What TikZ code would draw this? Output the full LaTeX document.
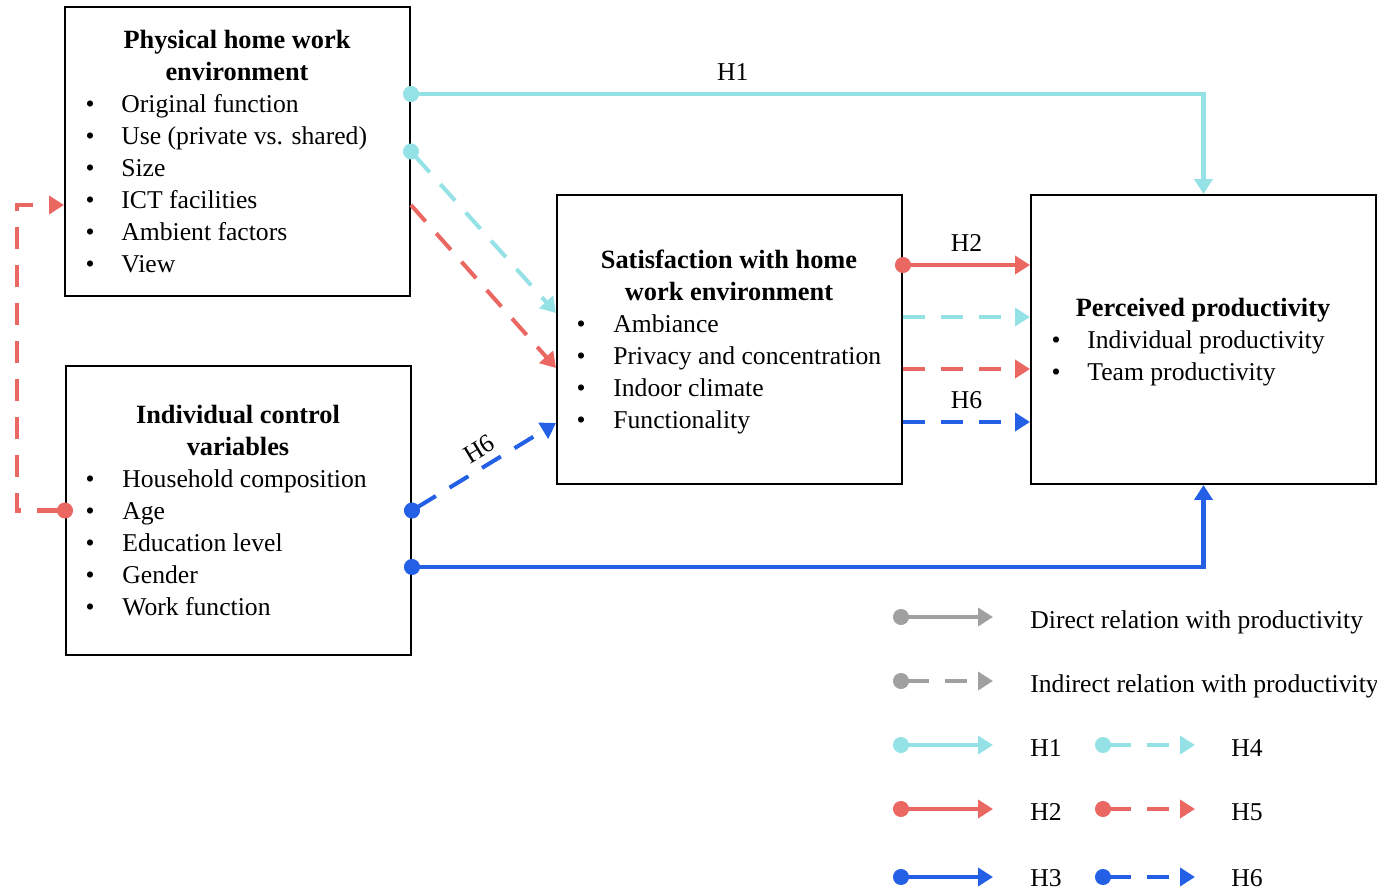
\documentclass[tikz,border=0pt]{standalone}
\usepackage{fontspec}
\setmainfont{Liberation Serif}
\usetikzlibrary{arrows.meta,positioning}

\definecolor{hcyan}{RGB}{148,226,230}
\definecolor{hred}{RGB}{235,103,98}
\definecolor{hblue}{RGB}{35,96,230}
\definecolor{hgrey}{RGB}{160,160,160}

\begin{document}
\begin{tikzpicture}[
  x=0.02cm, y=-0.02cm,
  font=\fontsize{14.6}{18.2}\selectfont,
  box/.style={draw,line width=1.15pt,minimum width=6.9cm,minimum height=5.78cm,inner sep=0pt},
  ttl/.style={font=\fontsize{15}{18.2}\selectfont\bfseries,align=center,inner sep=0pt},
  itm/.style={anchor=west,inner sep=0pt,text height=10pt,text depth=3pt,yshift=-1.7pt},
  bul/.style={inner sep=0pt,text height=10pt,text depth=3pt,yshift=-1.7pt},
  rel/.style={line width=2.3pt,{Circle[length=0.32cm,sep=-0.16cm]}-{Triangle[length=0.3cm,width=0.36cm]}},
  relnd/.style={line width=2.3pt,-{Triangle[length=0.3cm,width=0.36cm]}},
  ind/.style={dash pattern=on 0.44cm off 0.32cm},
  lab/.style={inner sep=6.5pt},
  lgd/.style={anchor=west,inner sep=0pt,text height=10pt,text depth=3pt,yshift=-1.7pt}]

  \useasboundingbox (0,0) rectangle (1377,889);

  % ================= boxes =================
  \node[box] (phys) at (237.5,151.5) {};
  \node[box] (ctrl) at (238.5,510.5) {};
  \node[box] (sat) at (729.5,339.5) {};
  \node[box] (perc) at (1203.5,339.5) {};

  % physical home work environment
  \node[ttl] (physttl) at (237,55) {Physical home work\\environment};
  \foreach \t [count=\i from 0] in {{Original function},{Use (private vs. shared)},{Size},
      {ICT facilities},{Ambient factors},{View}} {
    \node[bul] (physb\i) at (90,103+32*\i) {\textbullet};
    \node[itm] (physi\i) at (121,103+32*\i) {\t};
  }

  % individual control variables
  \node[ttl] (ctrlttl) at (238,430) {Individual control\\variables};
  \foreach \t [count=\i from 0] in {{Household composition},{Age},{Education level},
      {Gender},{Work function}} {
    \node[bul] (ctrlb\i) at (90,478+32*\i) {\textbullet};
    \node[itm] (ctrli\i) at (122,478+32*\i) {\t};
  }

  % satisfaction with home work environment
  \node[ttl] (satttl) at (729,275) {Satisfaction with home\\work environment};
  \foreach \t [count=\i from 0] in {{Ambiance},{Privacy and concentration},
      {Indoor climate},{Functionality}} {
    \node[bul] (satb\i) at (581,323+32*\i) {\textbullet};
    \node[itm] (sati\i) at (613,323+32*\i) {\t};
  }

  % perceived productivity
  \node[ttl] (percttl) at (1203,310) {Perceived productivity};
  \foreach \t [count=\i from 0] in {{Individual productivity},{Team productivity}} {
    \node[bul] (percb\i) at (1056,339+32*\i) {\textbullet};
    \node[itm] (perci\i) at (1087,339+32*\i) {\t};
  }

  % ================= relations =================
  % H1 and H3 (direct)
  \draw[rel,hcyan] ([yshift=1.15cm]phys.east) -| (perc.north)
    node[lab,pos=0.203,above,text=black] {H1};
  \draw[rel,hblue] ([yshift=-1.13cm]ctrl.east) -| (perc.south);

  % H4, H5 via satisfaction
  \draw[rel,ind,hcyan] (phys.east) -- ([yshift=0.53cm]sat.west);
  \draw[relnd,ind,hred] ([yshift=-1.07cm]phys.east) -- ([yshift=-0.57cm]sat.west);
  \draw[rel,ind,hblue] (ctrl.east) -- ([yshift=-1.67cm]sat.west)
    node[lab,inner sep=4pt,pos=0.53,above,sloped,text=black] {H6};

  % control variables to physical environment
  \draw[rel,ind,hred] (ctrl.west) -- ++(-48,0) |- ([yshift=-1.07cm]phys.west);

  % satisfaction to productivity
  \draw[rel,hred] ([yshift=1.49cm]sat.east) -- ([yshift=1.49cm]perc.west)
    node[lab,midway,above,text=black] {H2};
  \draw[relnd,ind,hcyan] ([yshift=0.45cm]sat.east) -- ([yshift=0.45cm]perc.west);
  \draw[relnd,ind,hred] ([yshift=-0.59cm]sat.east) -- ([yshift=-0.59cm]perc.west);
  \draw[relnd,ind,hblue] ([yshift=-1.65cm]sat.east) -- ([yshift=-1.65cm]perc.west)
    node[lab,midway,above,text=black] {H6};

  % ================= legend =================
  \node[lgd] (lgdir) at (1030,619) {Direct relation with productivity};
  \node[lgd] (lgind) at (1030,683) {Indirect relation with productivity};
  \node[lgd] (lgh1) at (1030,747) {H1};
  \node[lgd] (lgh2) at (1030,811) {H2};
  \node[lgd] (lgh3) at (1030,877) {H3};
  \node[lgd] (lgh4) at (1231,747) {H4};
  \node[lgd] (lgh5) at (1231,811) {H5};
  \node[lgd] (lgh6) at (1231,877) {H6};

  \coordinate (ldir) at (901,617);
  \coordinate (lind) at (901,681);
  \coordinate (lh1) at (901,745);
  \coordinate (lh2) at (901,809);
  \coordinate (lh3) at (901,877);
  \coordinate (lh4) at (1103,745);
  \coordinate (lh5) at (1103,809);
  \coordinate (lh6) at (1103,877);

  \draw[rel,hgrey] (ldir) -- ++(92,0);
  \draw[rel,ind,hgrey] (lind) -- ++(92,0);
  \draw[rel,hcyan] (lh1) -- ++(92,0);
  \draw[rel,hred] (lh2) -- ++(92,0);
  \draw[rel,hblue] (lh3) -- ++(92,0);
  \draw[rel,ind,hcyan] (lh4) -- ++(92,0);
  \draw[rel,ind,hred] (lh5) -- ++(92,0);
  \draw[rel,ind,hblue] (lh6) -- ++(92,0);
\end{tikzpicture}
\end{document}
